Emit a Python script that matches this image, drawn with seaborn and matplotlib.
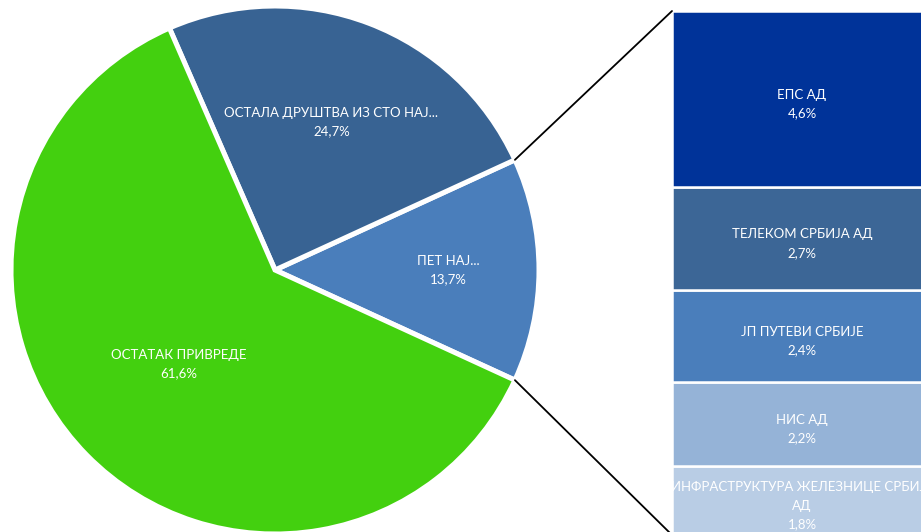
import numpy as np
import seaborn as sns
import matplotlib.pyplot as plt
from matplotlib.patches import ConnectionPatch

# ---- data ----
pie_labels = ["ПЕТ НАЈ...", "ОСТАЛА ДРУШТВА ИЗ СТО НАЈ...", "ОСТАТАК ПРИВРЕДЕ"]
pie_values = [13.7, 24.7, 61.6]
pie_colors = ["#4A7EBB", "#386393", "#43D00F"]

bar_labels = ["ИНФРАСТРУКТУРА ЖЕЛЕЗНИЦЕ СРБИЈЕ\nАД", "НИС АД", "ЈП ПУТЕВИ СРБИЈЕ",
              "ТЕЛЕКОМ СРБИЈА АД", "ЕПС АД"]
bar_values = [1.8, 2.2, 2.4, 2.7, 4.6]
bar_colors = ["#B9CDE5", "#95B3D7", "#4A7EBB", "#3C6696", "#003399"]


def pct(v):
    return f"{v:.1f}%".replace(".", ",")


sns.set_theme(style="white")
plt.rcParams["font.family"] = ["Lato", "DejaVu Sans"]

W, H = 921, 532
fig = plt.figure(figsize=(W / 100, H / 100), dpi=100)

# pie axes in pixel-like coordinates
ax = fig.add_axes([0, 0, 1, 1])
split = pie_values[0] / sum(pie_values) * 360
center = (275, 262)
radius = 264
wedges, _ = ax.pie(pie_values, colors=pie_colors, startangle=-split / 2,
                   center=center, radius=radius,
                   wedgeprops=dict(edgecolor="white", linewidth=3.6))
ax.set_xlim(0, W)
ax.set_ylim(0, H)
ax.set_aspect("equal")
ax.axis("off")

label_dist = [0.655, 0.6, 0.51]
for w, lab, val, d in zip(wedges, pie_labels, pie_values, label_dist):
    mid = np.deg2rad((w.theta1 + w.theta2) / 2)
    x = center[0] + d * radius * np.cos(mid)
    y = center[1] + d * radius * np.sin(mid)
    ax.text(x, y, f"{lab}\n{pct(val)}", ha="center", va="center",
            color="white", fontsize=9.5, linespacing=1.65)

# stacked bar of the split slice
bx = fig.add_axes([672 / W, -3 / H, 250 / W, 524 / H])
bottom = 0
for lab, val, col in zip(bar_labels, bar_values, bar_colors):
    bx.bar(0, val, bottom=bottom, width=1, color=col, edgecolor="white", linewidth=1.8)
    bx.text(0.02, bottom + val / 2 - 0.13, f"{lab}\n{pct(val)}", ha="center",
            va="center", color="white", fontsize=9.5, linespacing=1.65, clip_on=False)
    bottom += val
bx.set_xlim(-0.5, 0.5)
bx.set_ylim(0, bottom)
bx.axis("off")

# connector lines from the split slice to the bar
t = np.deg2rad(split / 2)
for sgn, yb in [(1, bottom), (-1, 0)]:
    p = (center[0] + radius * np.cos(t), center[1] + sgn * radius * np.sin(t))
    con = ConnectionPatch(xyA=p, coordsA=ax.transData, xyB=(-0.5, yb), coordsB=bx.transData,
                          color="black", linewidth=1.3)
    fig.add_artist(con)

fig.savefig("out.png", dpi=100)
